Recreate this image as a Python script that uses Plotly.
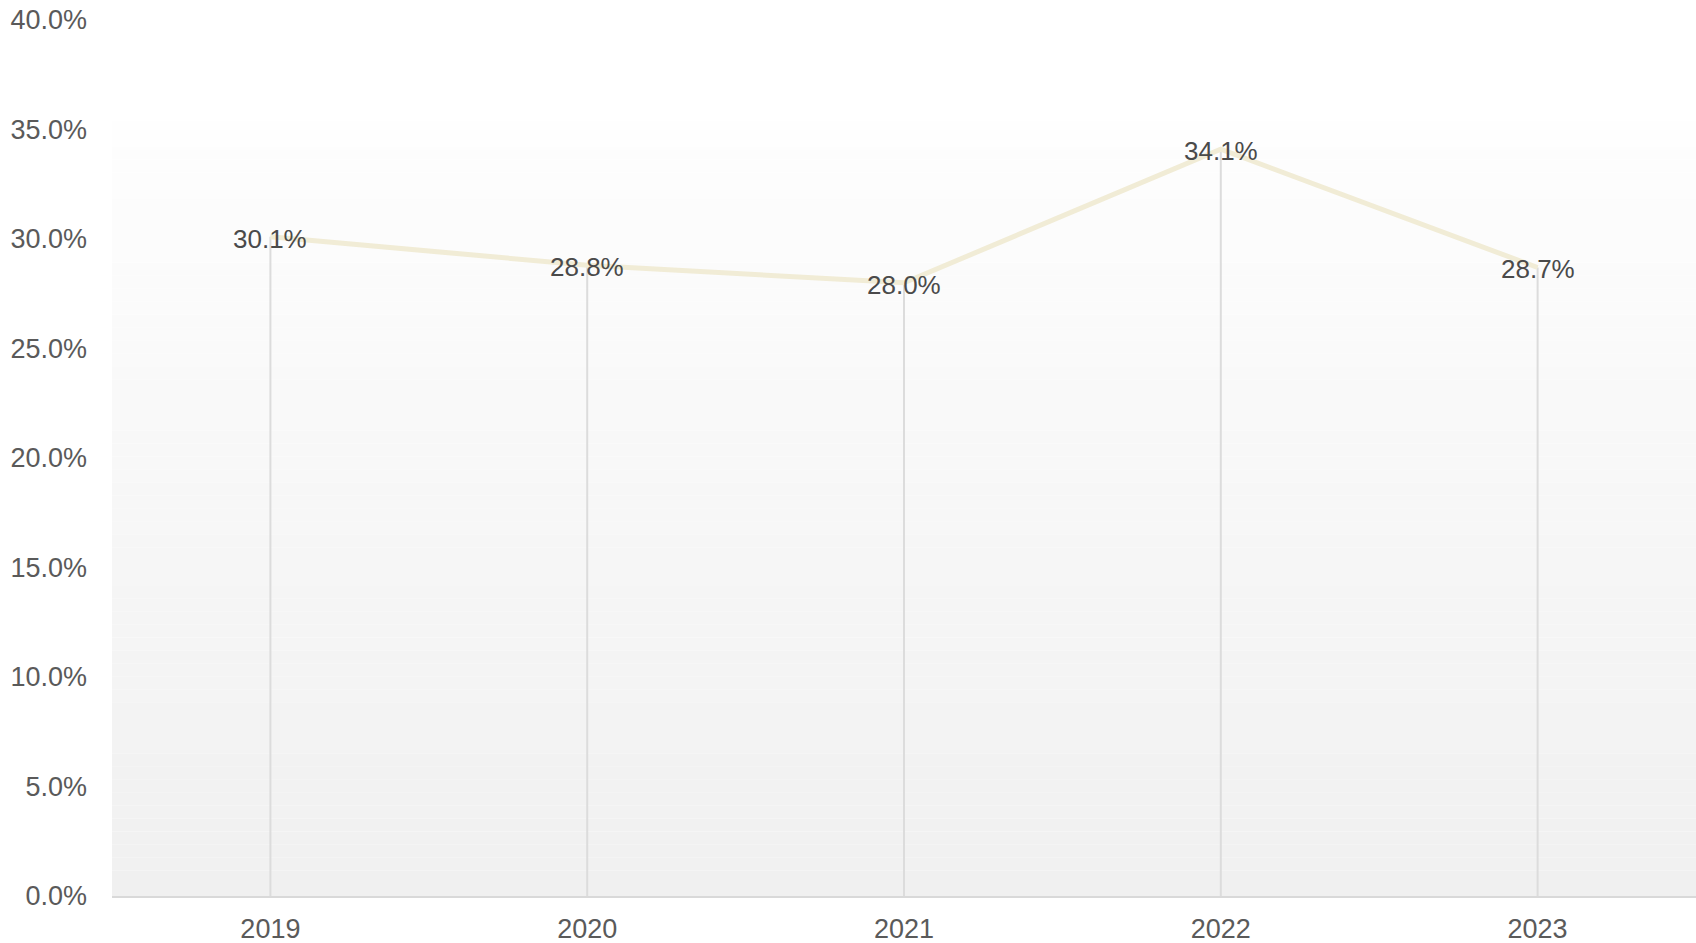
import plotly.graph_objects as go

# Yearly share values (percent)
years = ["2019", "2020", "2021", "2022", "2023"]
share = [30.1, 28.8, 28.0, 34.1, 28.7]
y_ticks = [0, 5, 10, 15, 20, 25, 30, 35, 40]
y_tick_labels = [f"{v:.1f}%" for v in y_ticks]

FONT = "Liberation Sans, Arial, Helvetica, sans-serif"

fig = go.Figure()

# Drop lines from each point down to the baseline
drop_x, drop_y = [], []
for yr, v in zip(years, share):
    drop_x += [yr, yr, None]
    drop_y += [0, v, None]
fig.add_trace(go.Scatter(
    x=drop_x, y=drop_y, mode="lines",
    line=dict(color="#dcdcdc", width=2),
    hoverinfo="skip", showlegend=False,
))

# Main line
fig.add_trace(go.Scatter(
    x=years, y=share, mode="lines",
    line=dict(color="#f1ecd6", width=5),
    showlegend=False,
))

# Value labels centred on the points (category index positions, since
# numeric-looking category names would be read as indices)
annotations = [
    dict(x=i, y=v, xref="x", yref="y", text=f"{v:.1f}%", showarrow=False,
         xanchor="center", yanchor="middle", yshift=-2,
         font=dict(family=FONT, size=26, color="#4a4a4a"))
    for i, v in enumerate(share)
]

# Vertical gradient panel behind the plot
shapes = []
top, bottom = 35.4, 0.0
n = 60
c_top, c_bot = 254, 240
for i in range(n):
    y0 = bottom + (top - bottom) * i / n
    y1 = bottom + (top - bottom) * (i + 1) / n
    t = (i + 0.5) / n
    c = round(c_bot + (c_top - c_bot) * t)
    shapes.append(dict(
        type="rect", xref="paper", yref="y", x0=0, x1=1, y0=y0, y1=y1,
        fillcolor=f"rgb({c},{c},{c})", line=dict(width=0), layer="below",
    ))

fig.update_layout(
    width=1696, height=943,
    margin=dict(l=112, r=0, t=20, b=47),
    paper_bgcolor="white", plot_bgcolor="white",
    font=dict(family=FONT, size=27, color="#5a5a5a"),
    shapes=shapes,
    annotations=annotations,
    xaxis=dict(
        type="category", range=[-0.5, 4.5],
        showgrid=False, zeroline=False,
        showline=True, linecolor="#d9d9d9", linewidth=2,
        ticks="", ticklabelstandoff=8,
        tickfont=dict(family=FONT, size=27, color="#5a5a5a"),
    ),
    yaxis=dict(
        range=[0, 40], tickvals=y_ticks, ticktext=y_tick_labels,
        showgrid=False, zeroline=False, showline=False,
        ticks="", ticklabelstandoff=24,
        tickfont=dict(family=FONT, size=27, color="#5a5a5a"),
    ),
)

fig.write_html("out.html")
